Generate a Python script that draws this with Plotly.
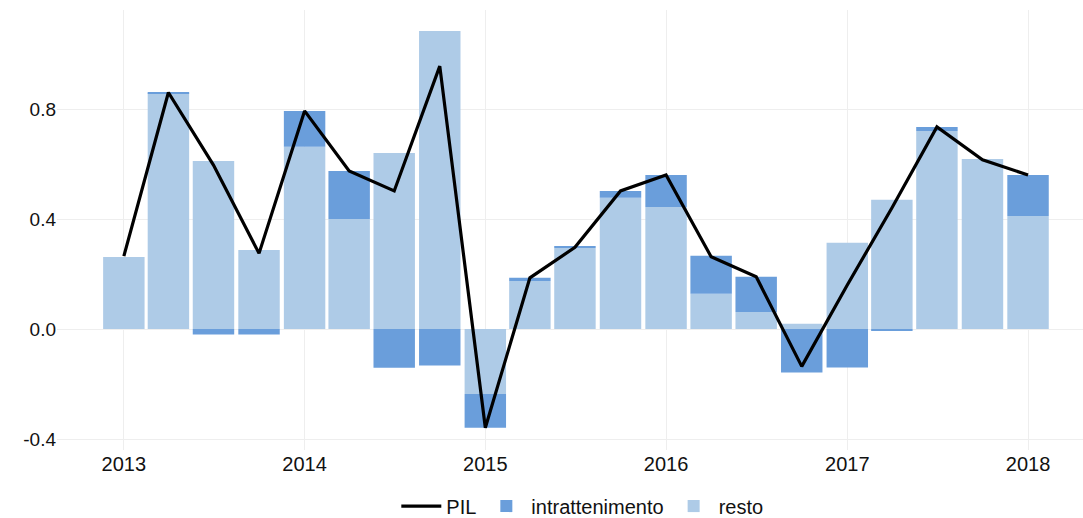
import plotly.graph_objects as go

quarters = ["2013-01-01", "2013-04-01", "2013-07-01", "2013-10-01",
            "2014-01-01", "2014-04-01", "2014-07-01", "2014-10-01",
            "2015-01-01", "2015-04-01", "2015-07-01", "2015-10-01",
            "2016-01-01", "2016-04-01", "2016-07-01", "2016-10-01",
            "2017-01-01", "2017-04-01", "2017-07-01", "2017-10-01",
            "2018-01-01"]
resto = [0.262, 0.857, 0.611, 0.287, 0.663, 0.400, 0.640, 1.084, -0.236, 0.175, 0.295,
         0.477, 0.444, 0.128, 0.062, 0.019, 0.314, 0.470, 0.720, 0.618, 0.411]
intrattenimento = [0.0, 0.004, -0.020, -0.020, 0.130, 0.175, -0.141, -0.133, -0.123, 0.011, 0.004,
                   0.025, 0.116, 0.138, 0.128, -0.158, -0.140, -0.005, 0.015, 0.0, 0.149]
pil = [0.265, 0.860, 0.596, 0.275, 0.793, 0.575, 0.502, 0.956, -0.359, 0.186, 0.297,
       0.502, 0.560, 0.263, 0.190, -0.136, 0.160, 0.440, 0.735, 0.615, 0.560]

year_ticks = ["2013-01-01", "2014-01-01", "2015-01-01", "2016-01-01", "2017-01-01", "2018-01-01"]
year_labels = ["2013", "2014", "2015", "2016", "2017", "2018"]
y_ticks = [-0.4, 0.0, 0.4, 0.8]
y_labels = ["-0.4", "0.0", "0.4", "0.8"]

fig = go.Figure()
fig.add_trace(go.Bar(x=quarters, y=resto, name="resto", marker_color="#aecbe7",
                     marker_line_width=0, legendrank=3))
fig.add_trace(go.Bar(x=quarters, y=intrattenimento, name="intrattenimento",
                     marker_color="#6a9edb", marker_line_width=0, legendrank=2))
fig.add_trace(go.Scatter(x=quarters, y=pil, name="PIL", mode="lines",
                         line=dict(color="black", width=3.2), legendrank=1))

fig.update_layout(
    barmode="relative",
    bargap=0.07,
    width=1083, height=518,
    margin=dict(l=57, r=0, t=10, b=68, autoexpand=False),
    plot_bgcolor="white", paper_bgcolor="white",
    font=dict(family="Liberation Sans, Arial, sans-serif", size=19, color="#111111"),
    legend=dict(orientation="h", x=0.512, xanchor="center", xref="paper",
                y=0.023, yanchor="middle", yref="container",
                font=dict(size=20), itemwidth=40),
    showlegend=True,
)
fig.update_xaxes(type="date", range=["2012-08-19", "2018-04-22"],
                 tickvals=year_ticks, ticktext=year_labels, automargin=False,
                 tickfont=dict(size=20),
                 showgrid=True, gridcolor="#eeeeee", gridwidth=1,
                 zeroline=False, showline=False, ticks="")
fig.update_yaxes(range=[-0.44, 1.16], tickvals=y_ticks, ticktext=y_labels, automargin=False,
                 tickfont=dict(size=19),
                 showgrid=True, gridcolor="#eeeeee", gridwidth=1,
                 zeroline=False, showline=False, ticks="", ticklen=0)

fig.write_html("out.html", config={"displayModeBar": False},
               post_script="document.body.style.margin='0';document.body.style.padding='0';")
